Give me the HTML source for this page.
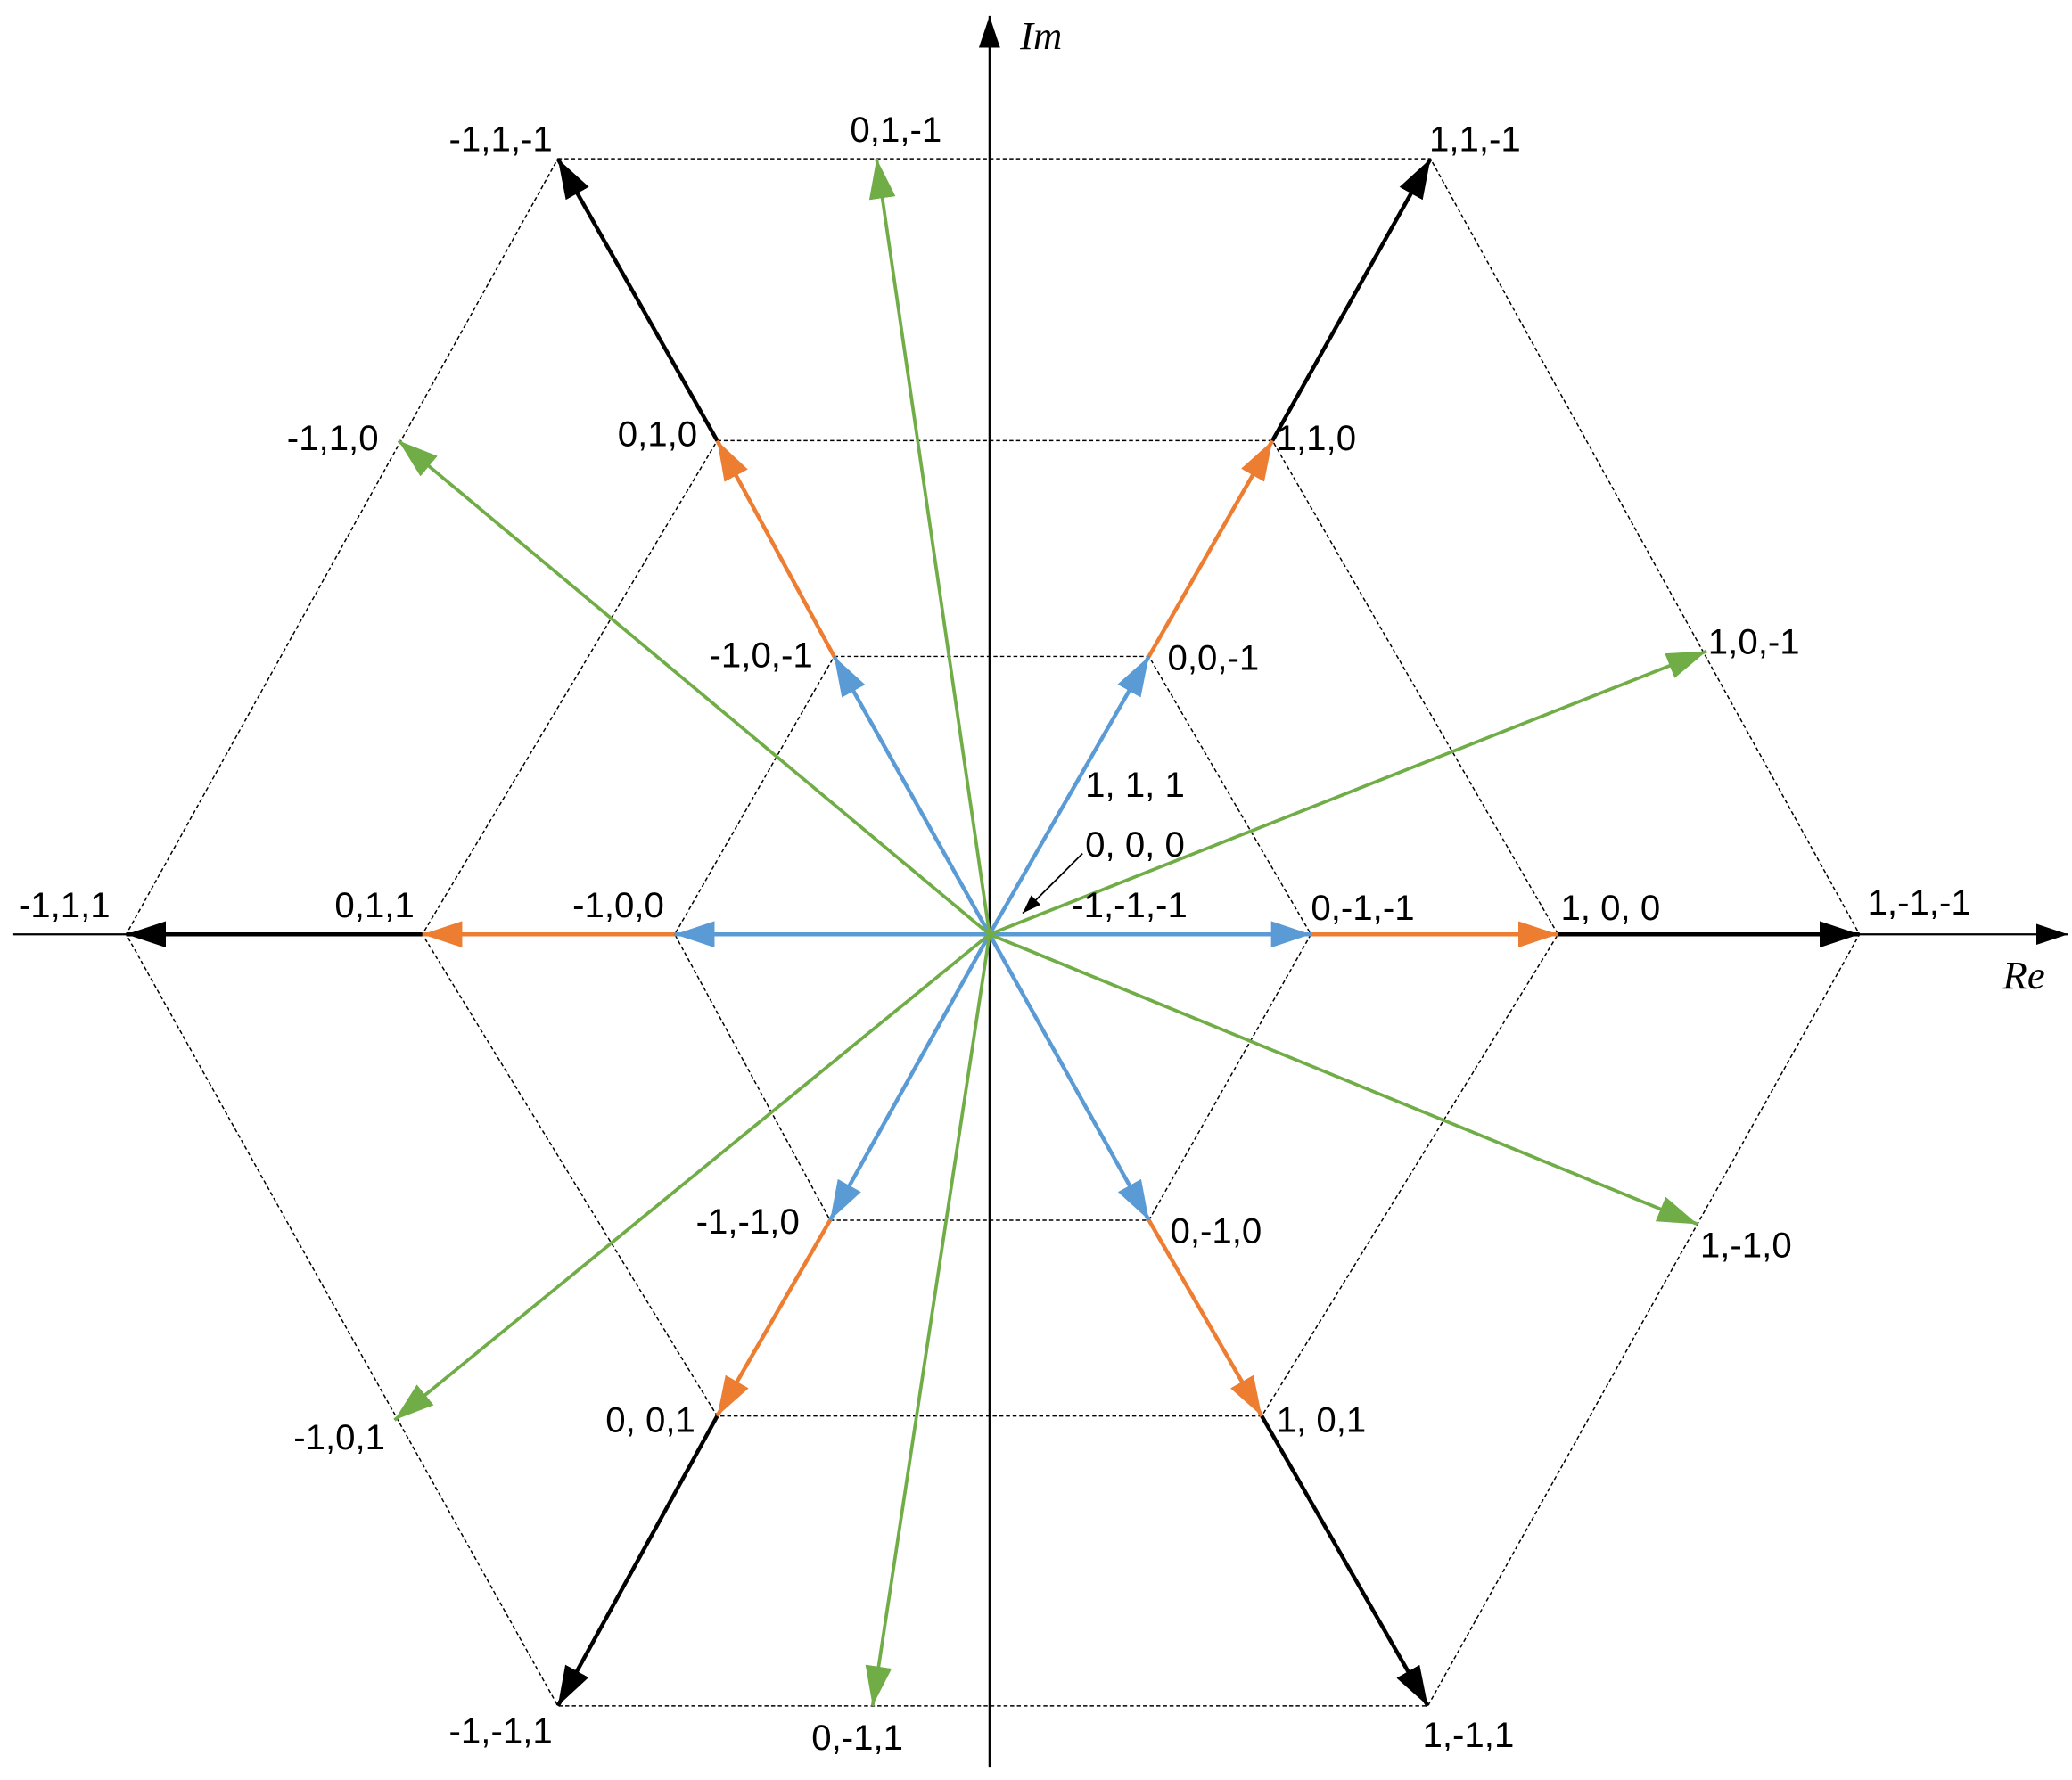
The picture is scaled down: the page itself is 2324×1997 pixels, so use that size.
<!DOCTYPE html>
<html><head><meta charset="utf-8"><style>html,body{margin:0;padding:0;background:#fff}svg{display:block}</style></head>
<body>
<svg width="2324" height="1997" viewBox="0 0 1560 1345" preserveAspectRatio="none" xmlns="http://www.w3.org/2000/svg">
<defs>
<marker id="k" markerUnits="userSpaceOnUse" markerWidth="32" markerHeight="22" refX="30" refY="10" orient="auto"><path d="M0,0 L30,10 L0,20 z" fill="#000"/></marker>
<marker id="o" markerUnits="userSpaceOnUse" markerWidth="32" markerHeight="22" refX="30" refY="10" orient="auto"><path d="M0,0 L30,10 L0,20 z" fill="#ED7D31"/></marker>
<marker id="b" markerUnits="userSpaceOnUse" markerWidth="32" markerHeight="22" refX="30" refY="10" orient="auto"><path d="M0,0 L30,10 L0,20 z" fill="#5B9BD5"/></marker>
<marker id="g" markerUnits="userSpaceOnUse" markerWidth="32" markerHeight="22" refX="30" refY="10" orient="auto"><path d="M0,0 L30,10 L0,20 z" fill="#70AD47"/></marker>
<marker id="a" markerUnits="userSpaceOnUse" markerWidth="26" markerHeight="18" refX="24" refY="8" orient="auto"><path d="M0,0 L24,8 L0,16 z" fill="#000"/></marker>
<marker id="s" markerUnits="userSpaceOnUse" markerWidth="16" markerHeight="12" refX="14" refY="5" orient="auto"><path d="M0,0 L14,5 L0,10 z" fill="#000"/></marker>
</defs>
<g fill="none" stroke="#000" stroke-width="1" stroke-dasharray="3,2">
<polygon points="420,120 1077,120 1400,706 1075,1289 420,1289 95,706"/>
<polygon points="540,333 958,333 1173,706 950,1070 540,1070 318,706"/>
<polygon points="628,496 865,496 987,706 865,922 625,922 508,706"/>
</g>
<g stroke="#000" stroke-width="1.5">
<line x1="10" y1="706" x2="1557" y2="706" marker-end="url(#a)"/>
<line x1="745" y1="1335" x2="745" y2="12" marker-end="url(#a)"/>
</g>
<g stroke="#000" stroke-width="3">
<line x1="540" y1="333" x2="420" y2="120" marker-end="url(#k)"/>
<line x1="958" y1="333" x2="1077" y2="120" marker-end="url(#k)"/>
<line x1="318" y1="706" x2="95" y2="706" marker-end="url(#k)"/>
<line x1="1173" y1="706" x2="1400" y2="706" marker-end="url(#k)"/>
<line x1="540" y1="1070" x2="420" y2="1289" marker-end="url(#k)"/>
<line x1="950" y1="1070" x2="1075" y2="1289" marker-end="url(#k)"/>
</g>
<g stroke="#ED7D31" stroke-width="3">
<line x1="628" y1="496" x2="540" y2="333" marker-end="url(#o)"/>
<line x1="865" y1="496" x2="958" y2="333" marker-end="url(#o)"/>
<line x1="508" y1="706" x2="318" y2="706" marker-end="url(#o)"/>
<line x1="987" y1="706" x2="1173" y2="706" marker-end="url(#o)"/>
<line x1="625" y1="922" x2="540" y2="1070" marker-end="url(#o)"/>
<line x1="865" y1="922" x2="950" y2="1070" marker-end="url(#o)"/>
</g>
<g stroke="#5B9BD5" stroke-width="3">
<line x1="745" y1="706" x2="628" y2="496" marker-end="url(#b)"/>
<line x1="745" y1="706" x2="865" y2="496" marker-end="url(#b)"/>
<line x1="745" y1="706" x2="508" y2="706" marker-end="url(#b)"/>
<line x1="745" y1="706" x2="987" y2="706" marker-end="url(#b)"/>
<line x1="745" y1="706" x2="625" y2="922" marker-end="url(#b)"/>
<line x1="745" y1="706" x2="865" y2="922" marker-end="url(#b)"/>
</g>
<g stroke="#70AD47" stroke-width="2.5">
<line x1="745" y1="706" x2="660" y2="120" marker-end="url(#g)"/>
<line x1="745" y1="706" x2="1285" y2="492" marker-end="url(#g)"/>
<line x1="745" y1="706" x2="1278" y2="925" marker-end="url(#g)"/>
<line x1="745" y1="706" x2="657" y2="1289" marker-end="url(#g)"/>
<line x1="745" y1="706" x2="297" y2="1073" marker-end="url(#g)"/>
<line x1="745" y1="706" x2="300" y2="333" marker-end="url(#g)"/>
</g>
<line x1="815" y1="645" x2="770" y2="690" stroke="#000" stroke-width="1.2" marker-end="url(#s)"/>
<g font-family="Liberation Sans, sans-serif" font-size="27" fill="#000" dominant-baseline="middle">
<text x="338" y="107">-1,1,-1</text>
<text x="640" y="100">0,1,-1</text>
<text x="1076" y="107">1,1,-1</text>
<text x="216" y="333">-1,1,0</text>
<text x="465" y="330">0,1,0</text>
<text x="961" y="333">1,1,0</text>
<text x="534" y="497">-1,0,-1</text>
<text x="879" y="499">0,0,-1</text>
<text x="1286" y="487">1,0,-1</text>
<text x="817" y="595">1, 1, 1</text>
<text x="817" y="640">0, 0, 0</text>
<text x="807" y="686">-1,-1,-1</text>
<text x="14" y="686">-1,1,1</text>
<text x="252" y="686">0,1,1</text>
<text x="431" y="686">-1,0,0</text>
<text x="987" y="688">0,-1,-1</text>
<text x="1175" y="688">1, 0, 0</text>
<text x="1406" y="684">1,-1,-1</text>
<text x="524" y="925">-1,-1,0</text>
<text x="881" y="932">0,-1,0</text>
<text x="1280" y="943">1,-1,0</text>
<text x="221" y="1088">-1,0,1</text>
<text x="456" y="1075">0, 0,1</text>
<text x="961" y="1075">1, 0,1</text>
<text x="338" y="1310">-1,-1,1</text>
<text x="611" y="1315">0,-1,1</text>
<text x="1071" y="1313">1,-1,1</text>
</g>
<g font-family="Liberation Serif, serif" font-style="italic" font-size="30" fill="#000" dominant-baseline="middle">
<text x="768" y="30">Im</text>
<text x="1508" y="740">Re</text>
</g>
</svg>
</body></html>
